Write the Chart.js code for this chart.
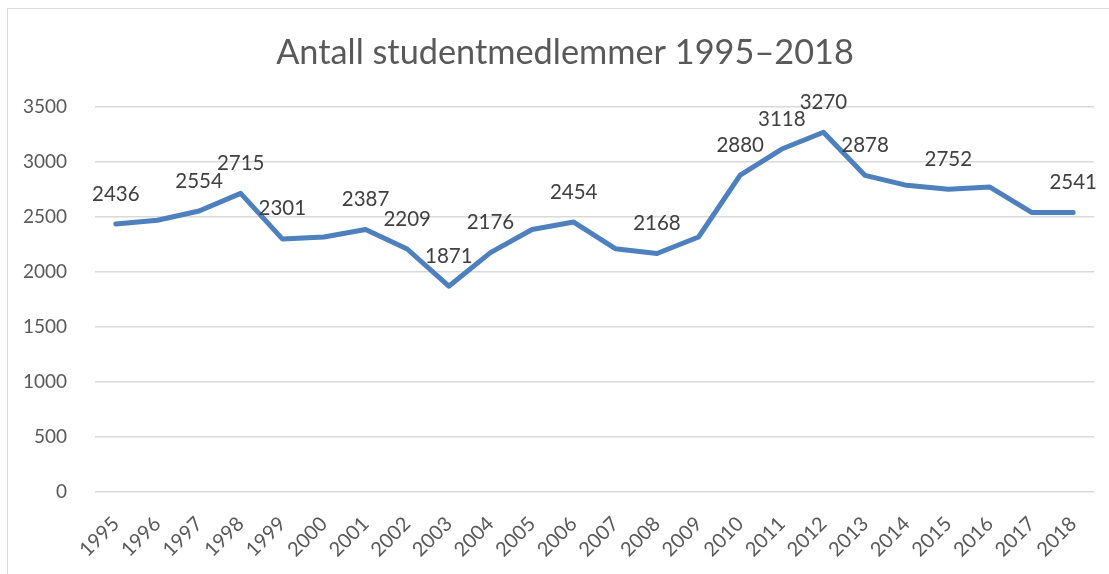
<!DOCTYPE html>
<html>
<head>
<meta charset="utf-8">
<script src="https://cdn.jsdelivr.net/npm/chart.js"></script>
<style>
  html, body { margin: 0; padding: 0; background: #ffffff; overflow: hidden; }
  #wrap { position: relative; width: 1109px; height: 574px; overflow: hidden; }
  #frame { position: absolute; left: 7px; top: 8px; width: 1300px; height: 800px;
           border-left: 1.5px solid #D9D9D9; border-top: 1.5px solid #D9D9D9; }
  canvas { position: absolute; left: 0; top: 0; }
</style>
</head>
<body>
<div id="wrap">
  <div id="frame"></div>
  <canvas id="c" width="1109" height="574"></canvas>
</div>
<script>
const titleText = "Antall studentmedlemmer 1995–2018";
const years = ["1995","1996","1997","1998","1999","2000","2001","2002","2003","2004","2005","2006",
               "2007","2008","2009","2010","2011","2012","2013","2014","2015","2016","2017","2018"];
const members = [2436, 2470, 2554, 2715, 2301, 2318, 2387, 2209, 1871, 2176, 2386, 2454,
                 2212, 2168, 2318, 2880, 3118, 3270, 2878, 2788, 2752, 2772, 2541, 2541];
const labeledYears = ["1995","1997","1998","1999","2001","2002","2003","2004","2006","2008",
                      "2010","2011","2012","2013","2015","2018"];
const yTicks = [0, 500, 1000, 1500, 2000, 2500, 3000, 3500];

const FONT = "Lato";

const dataLabelPlugin = {
  id: 'pointLabels',
  afterDatasetsDraw(chart) {
    const ctx = chart.ctx;
    const meta = chart.getDatasetMeta(0);
    ctx.save();
    ctx.font = "20.5px " + FONT;
    ctx.fillStyle = "#404040";
    ctx.textAlign = "center";
    ctx.textBaseline = "alphabetic";
    meta.data.forEach((el, i) => {
      if (labeledYears.includes(years[i])) {
        ctx.fillText(String(members[i]), el.x, el.y - 23.5);
      }
    });
    ctx.restore();
  }
};

const titlePlugin = {
  id: 'centeredTitle',
  afterDraw(chart) {
    const ctx = chart.ctx;
    ctx.save();
    ctx.font = "34.3px " + FONT;
    ctx.fillStyle = "#595959";
    ctx.textAlign = "center";
    ctx.textBaseline = "alphabetic";
    ctx.fillText(titleText, 565, 64);
    ctx.restore();
  }
};

function draw() {
  new Chart(document.getElementById('c'), {
    type: 'line',
    data: {
      labels: years,
      datasets: [{
        data: members,
        borderColor: '#4E80BD',
        borderWidth: 5,
        borderCapStyle: 'round',
        borderJoinStyle: 'round',
        pointRadius: 0,
        pointHoverRadius: 0,
        tension: 0,
        fill: false
      }]
    },
    options: {
      responsive: false,
      animation: false,
      events: [],
      layout: { padding: { left: 0, right: 15, top: 107, bottom: 0 } },
      plugins: {
        legend: { display: false },
        tooltip: { enabled: false },
        title: { display: false }
      },
      scales: {
        x: {
          type: 'category',
          offset: true,
          grid: { display: false },
          border: { display: false },
          ticks: {
            autoSkip: false,
            maxRotation: 45,
            minRotation: 45,
            padding: 12,
            color: '#595959',
            font: { family: FONT, size: 20 }
          },
          afterFit(scale) { scale.height = 82; }
        },
        y: {
          min: 0,
          max: 3500,
          afterBuildTicks(scale) { scale.ticks = yTicks.map(v => ({ value: v })); },
          grid: { color: '#D9D9D9', lineWidth: 1.5, drawTicks: false },
          border: { display: false },
          ticks: {
            padding: 28,
            color: '#595959',
            font: { family: FONT, size: 19 },
            callback: (v) => String(v)
          },
          afterFit(scale) { scale.width = 95; }
        }
      }
    },
    plugins: [dataLabelPlugin, titlePlugin]
  });
}

Promise.all([
  document.fonts.load("34px " + FONT),
  document.fonts.load("20px " + FONT)
]).then(draw, draw);
</script>
</body>
</html>
